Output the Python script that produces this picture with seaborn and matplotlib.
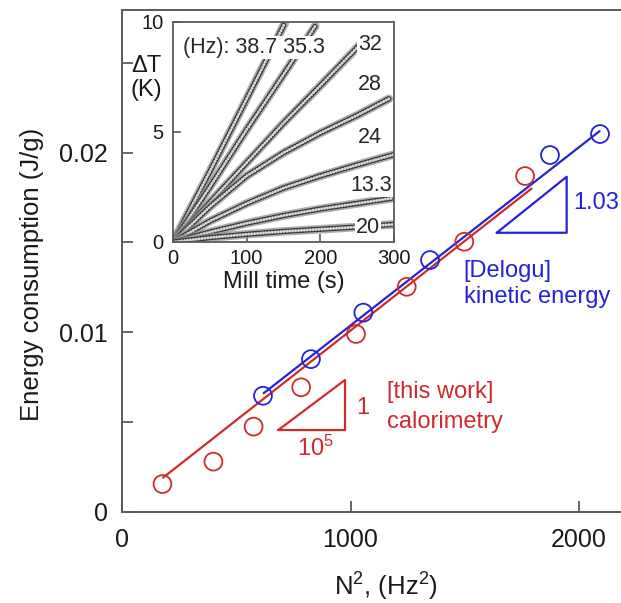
import matplotlib
matplotlib.use("Agg")
import matplotlib.pyplot as plt
import pandas as pd
import seaborn as sns

# ---- energy consumption vs. squared milling frequency ----
calorimetry_n2 = [177, 400, 576, 784, 1024, 1246, 1498, 1764]
calorimetry_energy = [0.00154, 0.00279, 0.00474, 0.00693, 0.0099, 0.01253, 0.01504, 0.0187]
delogu_n2 = [617, 827, 1056, 1348, 1873, 2092]
delogu_energy = [0.00646, 0.0085, 0.01109, 0.01402, 0.01987, 0.02104]

# straight-line fits through each data set (end points)
calorimetry_fit_n2 = [180, 1792]
calorimetry_fit_energy = [0.0019, 0.0180]
delogu_fit_n2 = [620, 2090]
delogu_fit_energy = [0.0066, 0.0212]

x_ticks = [0, 1000, 2000]
y_ticks = [0, 0.01, 0.02]
y_tick_labels = ["0", "0.01", "0.02"]

# ---- inset: temperature rise of the vial during milling ----
time_387 = [0, 50, 100, 152]
rise_387 = [0, 3.2, 6.5, 9.95]
time_353 = [0, 50, 100, 150, 193]
rise_353 = [0, 2.5, 5.1, 7.6, 9.8]
time_32 = [0, 50, 100, 150, 200, 255]
rise_32 = [0, 1.8, 3.6, 5.4, 7.1, 9.0]
time_28 = [0, 50, 100, 150, 200, 250, 293]
rise_28 = [0, 1.6, 3.0, 4.05, 4.95, 5.75, 6.5]
time_24 = [0, 50, 100, 150, 200, 250, 300]
rise_24 = [0, 0.95, 1.75, 2.45, 3.0, 3.5, 3.97]
time_lo1 = [0, 50, 100, 150, 200, 250, 300]
rise_lo1 = [0, 0.45, 0.85, 1.2, 1.5, 1.75, 2.0]
time_lo2 = [0, 50, 100, 150, 200, 250, 300]
rise_lo2 = [0, 0.2, 0.35, 0.48, 0.58, 0.68, 0.8]

inset_x_ticks = [0, 100, 200, 300]
inset_y_ticks = [0, 5, 10]

RED = "#cf2b2b"
BLUE = "#2323d8"
SPINE = "#5a5a5a"

sns.set_style("ticks")
plt.rcParams["font.family"] = ["Liberation Sans", "DejaVu Sans"]
plt.rcParams["mathtext.fontset"] = "custom"
plt.rcParams["mathtext.rm"] = "Liberation Sans"
plt.rcParams["mathtext.default"] = "regular"
plt.rcParams["lines.scale_dashes"] = False

W, H = 621, 603
fig = plt.figure(figsize=(W / 100, H / 100), dpi=100)

# main axes placed in pixel terms
ax = fig.add_axes([122 / W, 1 - 511.7 / H, 502.7 / W, 502.2 / H])
ax.set_xlim(0, 2200)
ax.set_ylim(0, 0.027978)

fit_cal = pd.DataFrame({"n2": calorimetry_fit_n2, "e": calorimetry_fit_energy})
fit_del = pd.DataFrame({"n2": delogu_fit_n2, "e": delogu_fit_energy})
sns.lineplot(data=fit_cal, x="n2", y="e", ax=ax, color=RED, lw=1.6, estimator=None)
sns.lineplot(data=fit_del, x="n2", y="e", ax=ax, color=BLUE, lw=1.6, estimator=None)

pts_cal = pd.DataFrame({"n2": calorimetry_n2, "e": calorimetry_energy})
pts_del = pd.DataFrame({"n2": delogu_n2, "e": delogu_energy})
for df, col in ((pts_cal, RED), (pts_del, BLUE)):
    sns.scatterplot(data=df, x="n2", y="e", ax=ax, marker="o", s=165,
                    facecolor="none", edgecolor=col, linewidth=1.3, zorder=3)
    coll = ax.collections[-1]
    coll.set_facecolor("none")
    coll.set_edgecolor(col)

# slope triangles
tri_cal = pd.DataFrame({"x": [684, 976, 976, 684], "y": [0.00455, 0.00455, 0.00734, 0.00455]})
tri_del = pd.DataFrame({"x": [1640, 1946, 1946, 1640], "y": [0.01554, 0.01554, 0.01866, 0.01554]})
sns.lineplot(data=tri_cal, x="x", y="y", ax=ax, sort=False, estimator=None, color=RED, lw=1.6)
sns.lineplot(data=tri_del, x="x", y="y", ax=ax, sort=False, estimator=None, color=BLUE, lw=1.6)

fs_note = 17
ax.text(1053, 0.00576, "1", color=RED, fontsize=fs_note, ha="center", va="center")
ax.text(845, 0.00355, "10$^5$", color=RED, fontsize=fs_note, ha="center", va="center")
ax.text(1158, 0.00669, "[this work]", color=RED, fontsize=fs_note, ha="left", va="center")
ax.text(1158, 0.00501, "calorimetry", color=RED, fontsize=fs_note, ha="left", va="center")
ax.text(1976, 0.01718, "1.03", color=BLUE, fontsize=fs_note, ha="left", va="center")
ax.text(1495, 0.01340, "[Delogu]", color=BLUE, fontsize=fs_note, ha="left", va="center")
ax.text(1495, 0.01198, "kinetic energy", color=BLUE, fontsize=fs_note, ha="left", va="center")

ax.set_xticks(x_ticks)
ax.set_yticks(y_ticks, labels=y_tick_labels)
ax.set_yticks([0.005, 0.015, 0.025], minor=True)
ax.tick_params(axis="both", which="both", direction="in", color=SPINE, width=1.3,
               labelsize=18, labelcolor="#1a1a1a")
ax.tick_params(axis="both", which="major", length=8)
ax.tick_params(axis="y", which="minor", length=8)
ax.tick_params(axis="x", pad=12)
ax.tick_params(axis="y", pad=10)
for side, sp in ax.spines.items():
    sp.set_color(SPINE)
    sp.set_linewidth(1.4)
ax.spines["right"].set_visible(False)

ax.set_xlabel("N$^2$, (Hz$^2$)", fontsize=18.5, color="#1a1a1a")
ax.set_ylabel("Energy consumption (J/g)", fontsize=18.5, color="#1a1a1a")
ax.xaxis.set_label_coords(0.526, -0.118)
ax.yaxis.set_label_coords(-0.155, 0.472)

# ---- inset ----
axi = fig.add_axes([173 / W, 1 - 242 / H, 221 / W, 220.3 / H])
axi.set_facecolor("white")
axi.set_xlim(0, 300)
axi.set_ylim(0, 10)

curves = [(time_387, rise_387), (time_353, rise_353), (time_32, rise_32),
          (time_28, rise_28), (time_24, rise_24), (time_lo1, rise_lo1),
          (time_lo2, rise_lo2)]
for t, r in curves:
    df = pd.DataFrame({"t": t, "dT": r})
    sns.lineplot(data=df, x="t", y="dT", ax=axi, sort=False, estimator=None,
                 color="#8c8c8c", lw=6.2, alpha=0.7)
    sns.lineplot(data=df, x="t", y="dT", ax=axi, sort=False, estimator=None,
                 color="#3c3c3c", lw=4.0)
    dark = axi.lines[-1]
    sns.lineplot(data=df, x="t", y="dT", ax=axi, sort=False, estimator=None,
                 color="#d6d6d6", lw=2.2)
    light = axi.lines[-1]
    for ln in (dark, light):
        ln.set_dashes((0.01, 2.1))
        ln.set_dash_capstyle("round")

box = dict(boxstyle="square,pad=0.05", fc="white", ec="none")
fs_in = 15.5
axi.text(13.6, 8.83, "(Hz): 38.7 35.3", fontsize=fs_in, ha="left", va="center", bbox=box)
axi.text(267.4, 8.98, "32", fontsize=fs_in, ha="center", va="center", bbox=box)
axi.text(267.4, 7.16, "28", fontsize=fs_in, ha="center", va="center", bbox=box)
axi.text(267.4, 4.74, "24", fontsize=fs_in, ha="center", va="center", bbox=box)
axi.text(268.5, 2.55, "13.3", fontsize=fs_in, ha="center", va="center", bbox=box)
axi.text(265, 0.66, "20", fontsize=fs_in, ha="center", va="center", bbox=box)

axi.set_xticks(inset_x_ticks)
axi.set_yticks(inset_y_ticks)
axi.tick_params(axis="both", direction="in", length=6, width=1.2, color=SPINE,
                labelsize=14.5, labelcolor="#1a1a1a")
axi.tick_params(axis="x", pad=5)
axi.tick_params(axis="y", pad=7)
for sp in axi.spines.values():
    sp.set_color(SPINE)
    sp.set_linewidth(1.3)
axi.set_xlabel("Mill time (s)", fontsize=17, color="#1a1a1a", labelpad=2)
axi.set_ylabel("")
axi.text(-0.122, 0.745, "ΔT\n(K)", transform=axi.transAxes, fontsize=17,
         ha="center", va="center", linespacing=1.15, color="#1a1a1a")

fig.savefig("out.png", dpi=100)
